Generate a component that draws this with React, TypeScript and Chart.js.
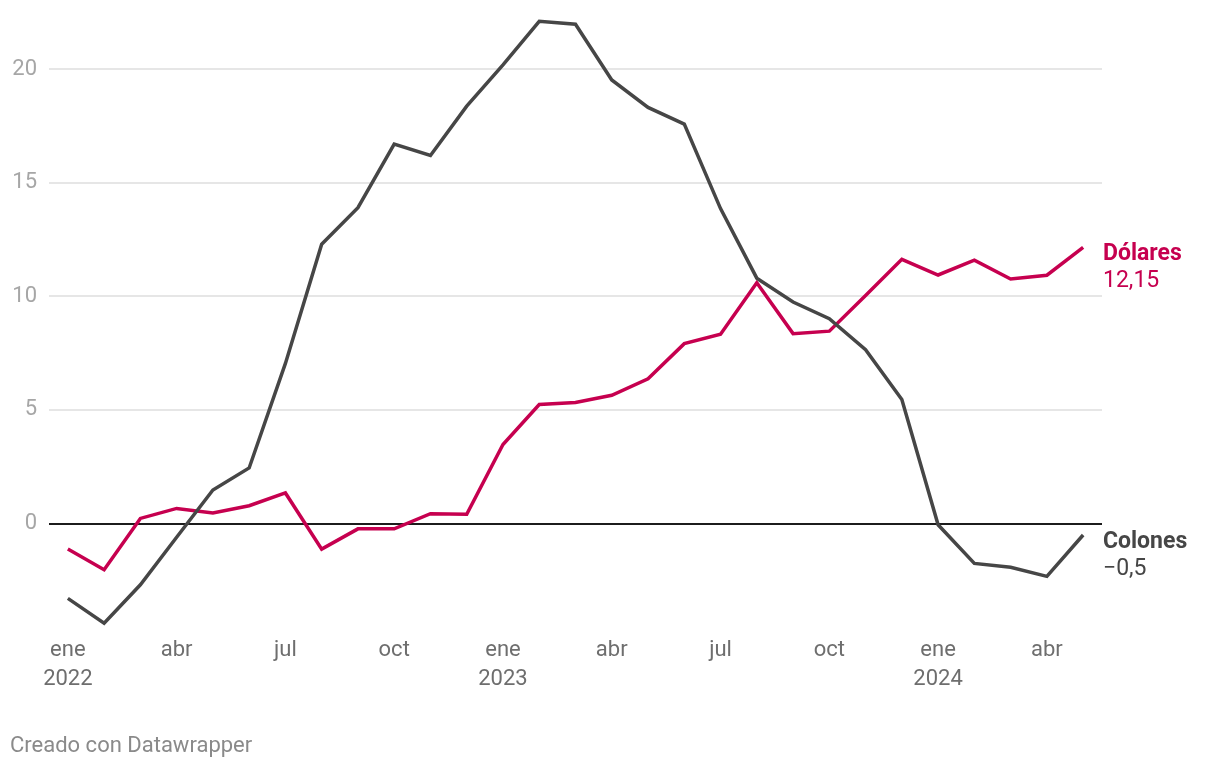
import React, { useEffect, useRef } from "react";
import { Chart, registerables } from "chart.js";

Chart.register(...registerables);

// Monthly categories, Jan 2022 – May 2024
const months = [
  "ene 2022", "feb 2022", "mar 2022", "abr 2022", "may 2022", "jun 2022",
  "jul 2022", "ago 2022", "sep 2022", "oct 2022", "nov 2022", "dic 2022",
  "ene 2023", "feb 2023", "mar 2023", "abr 2023", "may 2023", "jun 2023",
  "jul 2023", "ago 2023", "sep 2023", "oct 2023", "nov 2023", "dic 2023",
  "ene 2024", "feb 2024", "mar 2024", "abr 2024", "may 2024",
];

const colones = [
  -3.29, -4.38, -2.69, -0.6, 1.48, 2.45, 7.05, 12.29, 13.9, 16.7, 16.2, 18.37,
  20.18, 22.1, 21.97, 19.52, 18.31, 17.58, 13.86, 10.8, 9.75, 9.02, 7.65, 5.46,
  -0.05, -1.75, -1.92, -2.32, -0.5,
];

const dolares = [
  -1.12, -2.03, 0.23, 0.67, 0.47, 0.79, 1.35, -1.12, -0.23, -0.23, 0.44, 0.41,
  3.48, 5.24, 5.33, 5.65, 6.37, 7.92, 8.33, 10.6, 8.36, 8.47, 10.04, 11.63,
  10.94, 11.59, 10.76, 10.93, 12.15,
];

const xTickPositions = [0, 3, 6, 9, 12, 15, 18, 21, 24, 27];
const xTickLabels: (string | string[])[] = [
  ["ene", "2022"], "abr", "jul", "oct",
  ["ene", "2023"], "abr", "jul", "oct",
  ["ene", "2024"], "abr",
];
const yTicks = [0, 5, 10, 15, 20];

const seriesNames = ["Colones", "Dólares"];
const seriesColors = ["#464646", "#c6004f"];

const FONT = "Roboto, 'Noto Sans', sans-serif";

function fmt(v: number): string {
  const s = String(Math.abs(v)).replace(".", ",");
  return (v < 0 ? "\u2212" : "") + s;
}

const endLabels = {
  id: "endLabels",
  afterDatasetsDraw(chart: any) {
    const ctx = chart.ctx;
    chart.data.datasets.forEach((ds: any, i: number) => {
      const meta = chart.getDatasetMeta(i);
      const pt = meta.data[meta.data.length - 1];
      const last = ds.data[ds.data.length - 1];
      const x = chart.chartArea.right + 1;
      ctx.save();
      ctx.fillStyle = ds.borderColor;
      ctx.textAlign = "left";
      ctx.textBaseline = "alphabetic";
      ctx.font = `bold 23px ${FONT}`;
      ctx.fillText(ds.label, x, pt.y + 12.5);
      ctx.font = `23px ${FONT}`;
      ctx.fillText(fmt(last.y), x, pt.y + 40);
      ctx.restore();
    });
  },
};

export default function App() {
  const ref = useRef<HTMLCanvasElement | null>(null);

  useEffect(() => {
    if (!ref.current) return;
    const chart = new Chart(ref.current, {
      type: "line",
      data: {
        labels: months,
        datasets: [
          {
            label: seriesNames[0],
            data: colones.map((v, i) => ({ x: i, y: v })),
            borderColor: seriesColors[0],
            backgroundColor: seriesColors[0],
            borderWidth: 3.5,
            pointRadius: 0,
            tension: 0,
            clip: false as any,
          },
          {
            label: seriesNames[1],
            data: dolares.map((v, i) => ({ x: i, y: v })),
            borderColor: seriesColors[1],
            backgroundColor: seriesColors[1],
            borderWidth: 3.5,
            pointRadius: 0,
            tension: 0,
            clip: false as any,
          },
        ],
      },
      options: {
        animation: false,
        responsive: false,
        devicePixelRatio: 1,
        layout: { padding: { top: 14.5, right: 118, left: 0, bottom: 0 } },
        plugins: {
          legend: { display: false },
          tooltip: { enabled: false },
        },
        scales: {
          x: {
            type: "linear",
            min: -0.52,
            max: 28.52,
            grid: { display: false, drawTicks: false },
            border: { display: false },
            afterBuildTicks: (scale: any) => {
              scale.ticks = xTickPositions.map((v) => ({ value: v }));
            },
            afterFit: (scale: any) => {
              scale.height = 139.8;
              scale.paddingLeft = 0;
              scale.paddingRight = 0;
            },
            ticks: {
              autoSkip: false,
              maxRotation: 0,
              padding: 8,
              color: "#6e6e6e",
              font: { family: FONT, size: 22, lineHeight: "29px" as any },
              callback: (value: any) => {
                const idx = xTickPositions.indexOf(Number(value));
                return idx >= 0 ? xTickLabels[idx] : "";
              },
            },
          },
          y: {
            min: -4.6,
            max: 22.4,
            grid: {
              drawTicks: false,
              color: (c: any) => (c.tick && c.tick.value === 0 ? "#1c1c1c" : "#e6e6e6"),
              lineWidth: 2,
            },
            border: { display: false },
            afterBuildTicks: (scale: any) => {
              scale.ticks = yTicks.map((v) => ({ value: v }));
            },
            afterFit: (scale: any) => {
              scale.width = 49;
              scale.paddingTop = 0;
              scale.paddingBottom = 0;
            },
            ticks: {
              padding: 12,
              color: "#a6a6a6",
              font: { family: FONT, size: 22 },
              callback: (value: any) => fmt(Number(value)),
            },
          },
        },
      },
      plugins: [endLabels],
    });
    return () => chart.destroy();
  }, []);

  return (
    <div
      style={{
        position: "fixed",
        left: 0,
        top: 0,
        width: 1220,
        height: 768,
        background: "#ffffff",
        overflow: "hidden",
      }}
    >
      <canvas ref={ref} width={1220} height={768} style={{ display: "block" }} />
      <div
        style={{
          position: "absolute",
          left: 10,
          top: 732,
          fontFamily: FONT,
          fontSize: 22,
          color: "#8a8a8a",
          lineHeight: "26px",
          whiteSpace: "nowrap",
        }}
      >
        Creado con Datawrapper
      </div>
    </div>
  );
}
